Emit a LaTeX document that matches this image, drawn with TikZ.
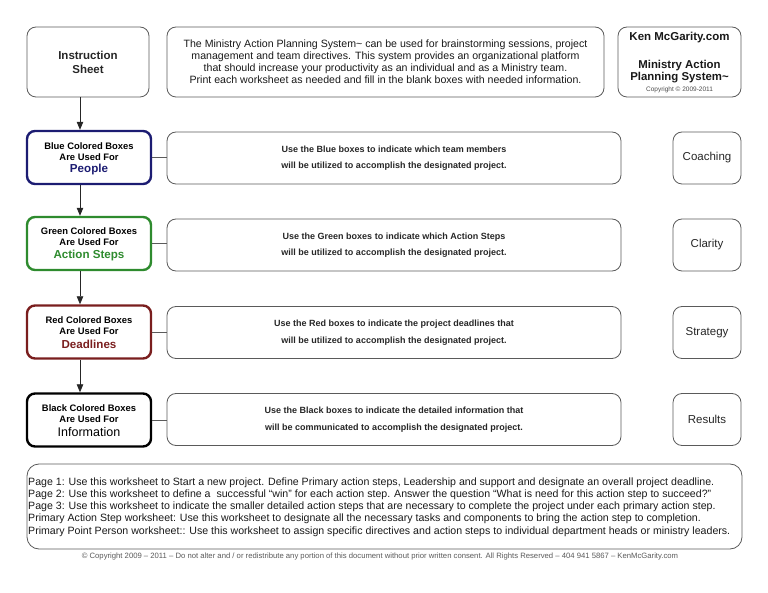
\documentclass[tikz,border=0pt]{standalone}
\usepackage{fontspec}
\setmainfont{Liberation Sans}
\usetikzlibrary{arrows.meta}
\definecolor{bluec}{HTML}{1C1C72}
\definecolor{greenc}{HTML}{2E8B2E}
\definecolor{redc}{HTML}{7A1E1E}
\definecolor{linec}{HTML}{5A5A5A}
\tikzset{
  rbox/.style={draw=linec, line width=0.8pt, rounded corners=9pt, inner sep=0pt, align=center},
  cbox/.style={rbox, line width=2.4pt, rounded corners=8pt},
  arr/.style={draw=black!85, line width=0.8pt, -{Triangle[length=8pt,width=6.5pt]}},
  conn/.style={draw=linec, line width=0.7pt},
  head/.style={font=\fontsize{9.4}{11}\selectfont\bfseries},
  desc/.style={font=\fontsize{9}{16.5}\selectfont\bfseries, text=black!85},
  side/.style={font=\fontsize{11.5}{13}\selectfont, text=black!85},
  big/.style={font=\fontsize{11.6}{14}\selectfont\bfseries}
}
\begin{document}
\begin{tikzpicture}[x=1pt,y=-1pt]
\useasboundingbox (0,0) rectangle (768,593);
% top row
\node[rbox, minimum width=122pt, minimum height=70pt, font=\fontsize{11.5}{14}\selectfont\bfseries, text=black!85] (inst) at (88,62) {Instruction\\Sheet};
\node[rbox, minimum width=437pt, minimum height=70pt, font=\fontsize{10.6}{12}\selectfont, text=black!90] (intro) at (385.5,62)
 {The Ministry Action Planning System\textasciitilde{} can be used for brainstorming sessions, project\\
  management and team directives. This system provides an organizational platform\\
  that should increase your productivity as an individual and as a Ministry team.\\
  Print each worksheet as needed and fill in the blank boxes with needed information.};
\node[rbox, minimum width=123pt, minimum height=70pt] (ken) at (679.5,62) {};
\node[font=\fontsize{11.5}{13}\selectfont\bfseries, text=black!90] (kent) at (679.5,37.5) {Ken McGarity.com};
\node[font=\fontsize{11.4}{12.8}\selectfont\bfseries, text=black!90, align=center] (kenm) at (679.5,71.5) {Ministry Action\\Planning System\textasciitilde};
\node[font=\fontsize{6.5}{7}\selectfont, text=black!70] (kenc) at (679.5,89.5) {Copyright \textcopyright{} 2009-2011};

% blue row
\node[cbox, draw=bluec, minimum width=124pt, minimum height=53pt] (blue) at (89,157.5) {};
\node[head] (blueh1) at (89,146) {Blue Colored Boxes};
\node[head] (blueh2) at (89,157) {Are Used For};
\node[big, text=bluec] (blueh3) at (89,170) {People};
\node[rbox, minimum width=454pt, minimum height=52pt, desc] (bluet) at (394,158)
 {Use the Blue boxes to indicate which team members\\will be utilized to accomplish the designated project.};
\node[rbox, minimum width=68pt, minimum height=52pt, side] (coach) at (707,158) {Coaching};

% green row
\node[cbox, draw=greenc, minimum width=124pt, minimum height=53pt] (green) at (89,243.5) {};
\node[head] (greenh1) at (89,231) {Green Colored Boxes};
\node[head] (greenh2) at (89,242.5) {Are Used For};
\node[big, text=greenc] (greenh3) at (89,255.5) {Action Steps};
\node[rbox, minimum width=454pt, minimum height=52pt, desc] (greent) at (394,245)
 {Use the Green boxes to indicate which Action Steps\\will be utilized to accomplish the designated project.};
\node[rbox, minimum width=68pt, minimum height=52pt, side] (clar) at (707,245) {Clarity};

% red row
\node[cbox, draw=redc, minimum width=124pt, minimum height=53pt] (red) at (89,332) {};
\node[head] (redh1) at (89,320) {Red Colored Boxes};
\node[head] (redh2) at (89,331) {Are Used For};
\node[big, text=redc] (redh3) at (89,344) {Deadlines};
\node[rbox, minimum width=454pt, minimum height=52pt, desc] (redt) at (394,332.5)
 {Use the Red boxes to indicate the project deadlines that\\will be utilized to accomplish the designated project.};
\node[rbox, minimum width=68pt, minimum height=52pt, side] (strat) at (707,332.5) {Strategy};

% black row
\node[cbox, draw=black, minimum width=124pt, minimum height=53pt] (black) at (89,420) {};
\node[head] (blackh1) at (89,408) {Black Colored Boxes};
\node[head] (blackh2) at (89,419) {Are Used For};
\node[font=\fontsize{12.5}{14}\selectfont, text=black] (blackh3) at (89,432) {Information};
\node[rbox, minimum width=454pt, minimum height=52pt, desc] (blackt) at (394,419.5)
 {Use the Black boxes to indicate the detailed information that\\will be communicated to accomplish the designated project.};
\node[rbox, minimum width=68pt, minimum height=52pt, side] (res) at (707,419.5) {Results};

% connectors
\draw[arr] ([xshift=-8pt]inst.south) -- ([xshift=-9pt]blue.north);
\draw[arr] ([xshift=-9pt]blue.south) -- ([xshift=-9pt]green.north);
\draw[arr] ([xshift=-9pt]green.south) -- ([xshift=-9pt]red.north);
\draw[arr] ([xshift=-9pt]red.south) -- ([xshift=-9pt]black.north);
\draw[conn] (blue.east) -- (blue.east -| bluet.west);
\draw[conn] (green.east) -- (green.east -| greent.west);
\draw[conn] (red.east) -- (red.east -| redt.west);
\draw[conn] (black.east) -- (black.east -| blackt.west);

% bottom box
\node[rbox, minimum width=715pt, minimum height=85pt, rounded corners=12pt] (pages) at (384.5,506.5) {};
\node[anchor=north west, inner sep=0pt, align=left, font=\fontsize{10.6}{12.2}\selectfont, text=black!90] (ptext) at (28,477.5)
 {Page 1: Use this worksheet to Start a new project. Define Primary action steps, Leadership and support and designate an overall project deadline.\\
  Page 2: Use this worksheet to define a\ \ successful ``win'' for each action step. Answer the question ``What is need for this action step to succeed?''\\
  Page 3: Use this worksheet to indicate the smaller detailed action steps that are necessary to complete the project under each primary action step.\\
  Primary Action Step worksheet: Use this worksheet to designate all the necessary tasks and components to bring the action step to completion.\\
  Primary Point Person worksheet:: Use this worksheet to assign specific directives and action steps to individual department heads or ministry leaders.};
\node[font=\fontsize{7.7}{8}\selectfont, text=black!65] (copy) at (380,557)
 {\textcopyright{} Copyright 2009 -- 2011 -- Do not alter and / or redistribute any portion of this document without prior written consent. All Rights Reserved -- 404 941 5867 -- KenMcGarity.com};
\end{tikzpicture}
\end{document}
